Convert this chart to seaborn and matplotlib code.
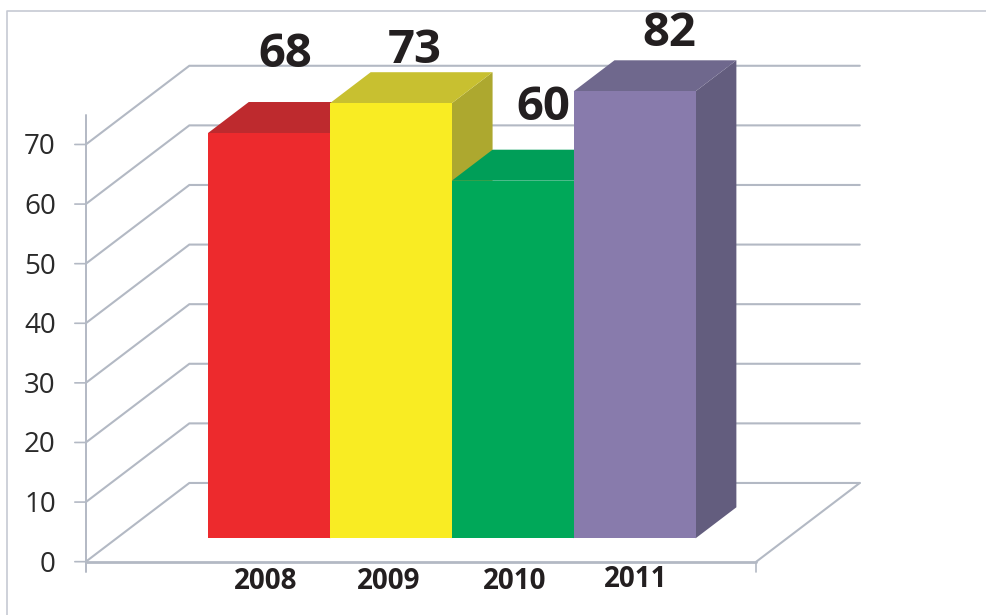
import matplotlib
matplotlib.use('Agg')
import matplotlib.pyplot as plt
import pandas as pd
import seaborn as sns

years = ['2008', '2009', '2010', '2011']
heights = [68, 73, 60, 75]
value_labels = ['68', '73', '60', '82']
y_ticks = [0, 10, 20, 30, 40, 50, 60, 70]

front_colors = ['#ED2A2D', '#F9EC23', '#00A859', '#887BAC']
top_colors = ['#BE2A2E', '#C8C030', '#009E58', '#6F688D']
side_colors = ['#A82528', '#ADA82F', '#008C4E', '#635D7E']
grid_color = '#B3B9C4'

# pixels per data unit, the whole figure is one axes
px_x = 121.9
px_y = 5.96

# fake 3d: depth t runs 0 (front of floor) to 1 (back wall), bars stand at t0
dx = 103.5 / px_x
dy = 78.7 / px_y
t0 = 0.297
bar_depth = 0.394
wall_left, wall_right = -1.25, 4.25

# text offsets in pixels from the bar they belong to
label_offsets = [(16, 79), (24, 53), (31, 73), (35, 58)]
year_offsets = [(-3, -43), (-2, -43), (2, -43), (1, -41)]


def project(x, v, t):
    return x + dx * (t - t0), v + dy * (t - t0)


sns.set_style('white')
plt.rcParams['font.family'] = ['Open Sans', 'DejaVu Sans']

fig = plt.figure(figsize=(9.87, 6.15), dpi=100)
ax = fig.add_axes([0, 0, 1, 1])

df = pd.DataFrame({'year': years, 'value': heights})
sns.barplot(data=df, x='year', y='value', hue='year', palette=front_colors,
            width=1, saturation=1, legend=False, ax=ax, zorder=3, linewidth=0)

left = -0.5 - 208 / px_x
bottom = -(615 - 538.3) / px_y
ax.set_xlim(left, left + 987 / px_x)
ax.set_ylim(bottom, bottom + 615 / px_y)
ax.axis('off')

# walls and floor
for v in y_ticks:
    a = project(wall_left, v, 0)
    b = project(wall_left, v, 1)
    c = project(wall_right, v, 1)
    ax.plot([a[0], b[0], c[0]], [a[1], b[1], c[1]], color=grid_color, lw=1.5, zorder=1,
            solid_joinstyle='miter')
    ax.annotate(str(v), a, xytext=(-30, -3), textcoords='offset pixels', ha='right', va='center',
                fontsize=20, color='#2A2A2A')
    ax.annotate('', a, xytext=(-11, 0), textcoords='offset pixels',
                arrowprops=dict(arrowstyle='-', color=grid_color, lw=1.2, shrinkA=0, shrinkB=0))

f0 = project(wall_left, 0, 0)
f1 = project(wall_right, 0, 0)
f2 = project(wall_right, 0, 1)
ax.plot([f0[0], f1[0]], [f0[1], f1[1]], color=grid_color, lw=2, zorder=1)
ax.plot([f1[0], f2[0]], [f1[1], f2[1]], color=grid_color, lw=1.5, zorder=1)
ax.plot([f0[0], f0[0]], [project(0, -1.7, 0)[1], project(0, 75, 0)[1]], color=grid_color, lw=1.4, zorder=1)
ax.plot([f1[0], f1[0]], [project(0, -1.7, 0)[1], f1[1]], color=grid_color, lw=1.2, zorder=1)

# bar sides and tops, the fronts come from barplot and sit above these
for i, h in enumerate(heights):
    x0, x1 = i - 0.5, i + 0.5
    t1 = t0 + bar_depth
    side = [project(x1, 0, t0), project(x1, h, t0), project(x1, h, t1), project(x1, 0, t1)]
    top = [project(x0, h, t0), project(x1, h, t0), project(x1, h, t1), project(x0, h, t1)]
    ax.fill(*zip(*side), color=side_colors[i], lw=0, zorder=2)
    ax.fill(*zip(*top), color=top_colors[i], lw=0, zorder=2)

for i, h in enumerate(heights):
    ax.annotate(value_labels[i], (i, h), xytext=label_offsets[i], textcoords='offset pixels',
                ha='center', va='center', fontsize=34, fontweight='bold', color='#231F20', zorder=5)
    ax.annotate(years[i], (i, 0), xytext=year_offsets[i], textcoords='offset pixels',
                ha='center', va='center', fontsize=20, fontweight='bold', color='#231F20')

# frame of the pasted picture
ax.plot([6.5 / 987, 6.5 / 987, 1], [0, 1 - 10.5 / 615, 1 - 10.5 / 615], color='#C6C9D3', lw=1.2,
        transform=ax.transAxes, clip_on=False)

fig.savefig('out.png', dpi=100)
